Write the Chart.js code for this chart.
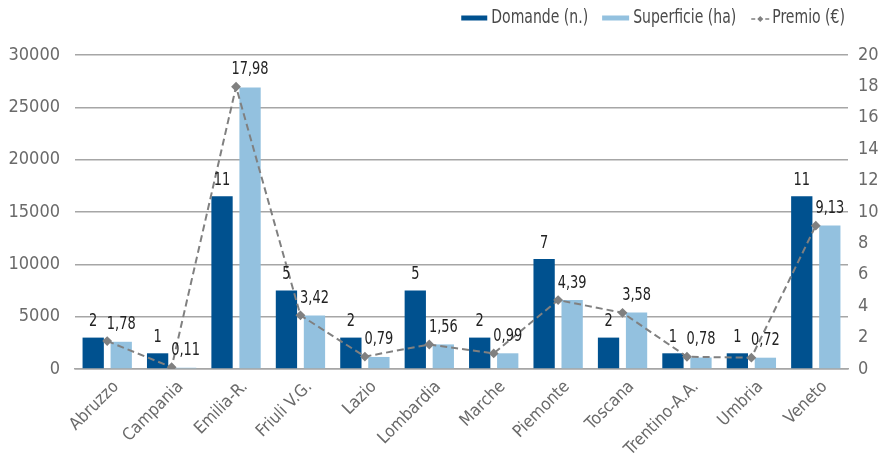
<!DOCTYPE html>
<html><head><meta charset="utf-8">
<script src="https://cdn.jsdelivr.net/npm/chart.js@4"></script>
<style>html,body{margin:0;padding:0;background:#fff}#wrap{width:880px;height:456px}</style>
</head><body><div id="wrap"><canvas id="c" width="880" height="456"></canvas></div>
<script>
const categories = ['Abruzzo','Campania','Emilia-R.','Friuli V.G.','Lazio','Lombardia','Marche','Piemonte','Toscana','Trentino-A.A.','Umbria','Veneto'];
const domandeBars = [3000,1500,16500,7500,3000,7500,3000,10500,3000,1500,1500,16500];
const domandeLabels = ['2','1','11','5','2','5','2','7','2','1','1','11'];
const superficie = [2600,120,26900,5100,1150,2350,1500,6600,5400,1100,1080,13700];
const premio = [1.78,0.11,17.98,3.42,0.79,1.56,0.99,4.39,3.58,0.78,0.72,9.13];
const premioLabels = ['1,78','0,11','17,98','3,42','0,79','1,56','0,99','4,39','3,58','0,78','0,72','9,13'];
const seriesNames = ['Domande (n.)','Superficie (ha)','Premio (€)'];

const FONT = "'DejaVu Sans Condensed','Liberation Sans Narrow',sans-serif";
const DARK = '#00518F', LIGHT = '#93C1DF', LINE = '#808080', TICK = '#6a6a6a';

function textScaled(ctx, text, x, y, sx) {
  ctx.save(); ctx.translate(x, y); ctx.scale(sx, 1); ctx.fillText(text, 0, 0); ctx.restore();
}

const labelPlugin = {
  id: 'labels',
  afterDatasetsDraw(chart) {
    const ctx = chart.ctx;
    const m0 = chart.getDatasetMeta(0), m1 = chart.getDatasetMeta(1), m2 = chart.getDatasetMeta(2);
    ctx.save();
    ctx.font = '18px ' + FONT;
    ctx.fillStyle = '#222222';
    ctx.textAlign = 'center';
    ctx.textBaseline = 'middle';
    const sx = 0.8;
    m0.data.forEach((b, i) => textScaled(ctx, domandeLabels[i], b.x, b.y - 16, sx));
    m2.data.forEach((p, i) => textScaled(ctx, premioLabels[i], m1.data[i].x, p.y - 17, sx));
    ctx.restore();
  }
};

const legendPlugin = {
  id: 'customLegend',
  afterDraw(chart) {
    const ctx = chart.ctx;
    ctx.save();
    ctx.font = '20px ' + FONT;
    ctx.fillStyle = '#4a4a4a';
    ctx.textBaseline = 'middle';
    ctx.textAlign = 'left';
    const sx = 0.78;
    const y = 18;
    const w = seriesNames.map(s => ctx.measureText(s).width * sx);
    const x3 = 845 - w[2];
    const s3 = x3 - 21;
    const x2 = s3 - 15 - w[1];
    const s2 = x2 - 31;
    const x1 = s2 - 14 - w[0];
    const s1 = x1 - 30;
    textScaled(ctx, seriesNames[0], x1, y, sx);
    textScaled(ctx, seriesNames[1], x2, y, sx);
    textScaled(ctx, seriesNames[2], x3, y, sx);
    ctx.fillStyle = DARK; ctx.fillRect(s1, y - 2.5, 26, 5);
    ctx.fillStyle = LIGHT; ctx.fillRect(s2, y - 2.5, 27, 5);
    ctx.strokeStyle = LINE; ctx.lineWidth = 1.6; ctx.setLineDash([4, 3]);
    ctx.beginPath(); ctx.moveTo(s3, y + 1); ctx.lineTo(s3 + 18, y + 1); ctx.stroke();
    ctx.setLineDash([]);
    ctx.fillStyle = LINE;
    ctx.beginPath(); const cx = s3 + 9, cy = y + 1;
    ctx.moveTo(cx, cy - 3); ctx.lineTo(cx + 3, cy); ctx.lineTo(cx, cy + 3); ctx.lineTo(cx - 3, cy); ctx.closePath(); ctx.fill();
    ctx.restore();
  }
};

new Chart(document.getElementById('c'), {
  data: {
    labels: categories,
    datasets: [
      { type: 'bar', label: seriesNames[0], data: domandeBars, backgroundColor: DARK, yAxisID: 'y', categoryPercentage: 0.87, barPercentage: 0.76, order: 2 },
      { type: 'bar', label: seriesNames[1], data: superficie, backgroundColor: LIGHT, yAxisID: 'y', categoryPercentage: 0.87, barPercentage: 0.76, order: 2 },
      { type: 'line', label: seriesNames[2], data: premio, yAxisID: 'y1', borderColor: LINE, borderWidth: 2, borderDash: [7, 4],
        pointStyle: 'rectRot', pointRadius: 3.5, pointBackgroundColor: LINE, pointBorderColor: LINE, tension: 0, order: 1 }
    ]
  },
  options: {
    responsive: false,
    devicePixelRatio: 1,
    animation: false,
    layout: { padding: { top: 55, left: 0, right: 0, bottom: 0 } },
    plugins: { legend: { display: false }, tooltip: { enabled: false } },
    scales: {
      x: {
        grid: { display: false, drawTicks: false },
        border: { display: true, color: '#a6a6a6', width: 1.5 },
        ticks: { color: TICK, font: { family: FONT, size: 17 }, maxRotation: 45, minRotation: 45, padding: 8, labelOffset: 9 },
        afterFit(s) { s.height = 87; }
      },
      y: {
        position: 'left', min: 0, max: 30000,
        grid: { color: '#a6a6a6', lineWidth: 1.5, drawTicks: false },
        border: { display: false },
        ticks: { stepSize: 5000, color: TICK, font: { family: FONT, size: 18 }, padding: 15, callback: v => String(v) },
        afterFit(s) { s.width = 75; }
      },
      y1: {
        position: 'right', min: 0, max: 20,
        grid: { display: false, drawTicks: false },
        border: { display: false },
        ticks: { stepSize: 2, color: TICK, font: { family: FONT, size: 18 }, padding: 10, callback: v => String(v) },
        afterFit(s) { s.width = 32; }
      }
    }
  },
  plugins: [labelPlugin, legendPlugin]
});
</script>
</body></html>
